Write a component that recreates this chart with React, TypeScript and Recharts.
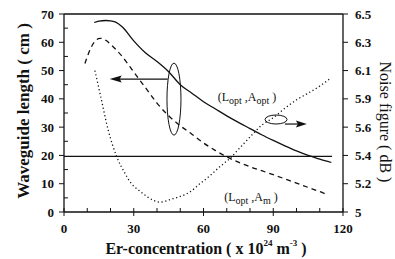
import React from 'react';
import { ComposedChart, Line, XAxis, YAxis, ReferenceDot } from 'recharts';

// Er-concentration (x10^24 m^-3) and waveguide length (cm) for (Lopt, Aopt)
const concOpt = [13, 15, 18, 20, 22, 25, 30, 35, 40, 45, 50, 55, 60, 65, 70, 75, 80, 85, 90, 95, 100, 105, 110, 115];
const lenOpt = [67, 67.5, 67.7, 67.6, 67.2, 65.5, 60.5, 56.3, 53.2, 49.6, 45, 42, 39, 36.5, 34, 31.7, 29.5, 27.3, 25.3, 23.4, 21.6, 20, 18.7, 17.5];

// (Lopt, Am)
const concM = [9, 11, 13, 15.5, 18, 20, 25, 30, 35, 40, 45, 50, 55, 60, 65, 70, 75, 80, 85, 90, 95, 100, 105, 110, 113];
const lenM = [52.5, 57, 60, 61.4, 60.7, 59.3, 55, 49.5, 44, 38.5, 34, 30.5, 27.5, 24.4, 21.8, 19.5, 17.6, 16, 14.6, 13.2, 11.7, 10.2, 8.7, 7.2, 6.2];

// Noise figure (dB)
const concNf = [13.3, 16, 19, 22.7, 26, 29, 32.5, 35.6, 41.3, 46, 50, 54, 58.5, 63, 67, 71.4, 76, 80, 85, 90, 95, 100, 105, 110, 115];
const nfDb = [6.1, 5.9, 5.58, 5.39, 5.28, 5.2, 5.15, 5.11, 5.07, 5.09, 5.11, 5.14, 5.2, 5.26, 5.32, 5.38, 5.46, 5.53, 5.62, 5.7, 5.8, 5.89, 5.94, 5.99, 6.05];

// horizontal reference line (cm)
const flatConc = [0, 115.3];
const flatLen = [19.7, 19.7];

// tick labels
const xTicks = [0, 10, 20, 30, 40, 50, 60, 70, 80, 90, 100, 110, 120];
const xMajor = [0, 30, 60, 90, 120];
const yTicks = [0, 5, 10, 15, 20, 25, 30, 35, 40, 45, 50, 55, 60, 65, 70];
const nfLabels = [5, 5.2, 5.4, 5.6, 5.9, 6.1, 6.3, 6.5];

const nfPos = (db: number) => {
  for (let i = 0; i < nfLabels.length - 1; i++) {
    if (db <= nfLabels[i + 1]) return i + (db - nfLabels[i]) / (nfLabels[i + 1] - nfLabels[i]);
  }
  return nfLabels.length - 1;
};

const optData = concOpt.map((c, i) => ({ c, v: lenOpt[i] }));
const mData = concM.map((c, i) => ({ c, v: lenM[i] }));
const nfData = concNf.map((c, i) => ({ c, v: nfPos(nfDb[i]) }));
const flatData = flatConc.map((c, i) => ({ c, v: flatLen[i] }));

const FONT = '"Liberation Serif", "DejaVu Serif", serif';
const K = '#111';

const BottomTick = (p: any) => {
  const { x, y, payload } = p;
  const major = xMajor.includes(payload.value);
  return (
    <g>
      <line x1={x} x2={x} y1={y} y2={y - 4} stroke={K} strokeWidth={1} />
      {major && <line x1={x} x2={x} y1={y} y2={y + 4} stroke={K} strokeWidth={1} />}
      {major && (
        <text x={x} y={y + 16} textAnchor="middle" dominantBaseline="central" fontFamily={FONT} fontWeight="bold" fontSize={13} fill={K}>
          {payload.value}
        </text>
      )}
    </g>
  );
};

const TopTick = (p: any) => {
  const { x, y, payload } = p;
  const major = xMajor.includes(payload.value);
  return <line x1={x} x2={x} y1={y} y2={y + (major ? 5 : 4)} stroke={K} strokeWidth={1} />;
};

const LeftTick = (p: any) => {
  const { x, y, payload } = p;
  const major = payload.value % 10 === 0;
  return (
    <g>
      {major ? (
        <line x1={x - 5} x2={x} y1={y} y2={y} stroke={K} strokeWidth={1} />
      ) : (
        <line x1={x} x2={x + 4} y1={y} y2={y} stroke={K} strokeWidth={1} />
      )}
      {major && (
        <text x={x - 10} y={y} textAnchor="end" dominantBaseline="central" fontFamily={FONT} fontWeight="bold" fontSize={13} fill={K}>
          {payload.value}
        </text>
      )}
    </g>
  );
};

const RightTick = (p: any) => {
  const { x, y, payload } = p;
  return (
    <g>
      <line x1={x} x2={x + 5} y1={y} y2={y} stroke={K} strokeWidth={1} />
      <text x={x + 12} y={y} textAnchor="start" dominantBaseline="central" fontFamily={FONT} fontWeight="bold" fontSize={13} fill={K}>
        {nfLabels[payload.value]}
      </text>
    </g>
  );
};

const Ellipse = (rx: number, ry: number) => (p: any) => (
  <ellipse cx={p.cx} cy={p.cy} rx={rx} ry={ry} fill="none" stroke={K} strokeWidth={1} />
);

const ArrowLeft = (p: any) => (
  <g>
    <line x1={p.cx} y1={p.cy} x2={p.cx - 50} y2={p.cy} stroke={K} strokeWidth={1.2} />
    <polygon points={`${p.cx - 58},${p.cy} ${p.cx - 46},${p.cy - 3.5} ${p.cx - 48},${p.cy} ${p.cx - 46},${p.cy + 3.5}`} fill={K} />
  </g>
);

const ArrowRight = (p: any) => (
  <g>
    <line x1={p.cx} y1={p.cy} x2={p.cx + 15} y2={p.cy} stroke={K} strokeWidth={1.2} />
    <polygon points={`${p.cx + 22},${p.cy} ${p.cx + 11},${p.cy - 3.5} ${p.cx + 13},${p.cy} ${p.cx + 11},${p.cy + 3.5}`} fill={K} />
  </g>
);

const Annot = (sub2: string) => (p: any) => (
  <text x={p.cx} y={p.cy} textAnchor="middle" dominantBaseline="central" fontFamily={FONT} fontSize={12} fill={K}>
    <tspan>(L</tspan>
    <tspan dy={3} fontSize={10}>opt</tspan>
    <tspan dy={-3}> ,A</tspan>
    <tspan dy={3} fontSize={10}>{sub2}</tspan>
    <tspan dy={-3}> )</tspan>
  </text>
);

export default function App() {
  return (
    <div style={{ position: 'absolute', left: 0, top: 0, width: 395, height: 259, background: '#fff' }}>
      <ComposedChart width={395} height={259} margin={{ top: 9, right: 32, bottom: 27, left: 44 }}>
        <XAxis
          xAxisId="b"
          type="number"
          dataKey="c"
          domain={[0, 120]}
          ticks={xTicks}
          interval={0}
          height={20}
          tickSize={0}
          tickMargin={0}
          tickLine={false}
          axisLine={{ stroke: K, strokeWidth: 1.3 }}
          tick={<BottomTick />}
        />
        <XAxis
          xAxisId="t"
          orientation="top"
          type="number"
          dataKey="c"
          domain={[0, 120]}
          ticks={xTicks}
          interval={0}
          height={5}
          tickSize={0}
          tickMargin={0}
          tickLine={false}
          axisLine={{ stroke: K, strokeWidth: 1.3 }}
          tick={<TopTick />}
        />
        <YAxis
          yAxisId="L"
          type="number"
          domain={[0, 70]}
          ticks={yTicks}
          interval={0}
          width={20}
          tickSize={0}
          tickMargin={0}
          tickLine={false}
          axisLine={{ stroke: K, strokeWidth: 1.3 }}
          tick={<LeftTick />}
        />
        <YAxis
          yAxisId="nf"
          orientation="right"
          type="number"
          domain={[0, 7]}
          ticks={[0, 1, 2, 3, 4, 5, 6, 7]}
          interval={0}
          width={20}
          tickSize={0}
          tickMargin={0}
          tickLine={false}
          axisLine={{ stroke: K, strokeWidth: 1.3 }}
          tick={<RightTick />}
        />
        <Line xAxisId="b" yAxisId="L" data={flatData} dataKey="v" type="linear" stroke={K} strokeWidth={1.3} dot={false} isAnimationActive={false} />
        <Line xAxisId="b" yAxisId="L" data={optData} dataKey="v" type="monotone" stroke={K} strokeWidth={1.3} dot={false} isAnimationActive={false} />
        <Line xAxisId="b" yAxisId="L" data={mData} dataKey="v" type="monotone" stroke={K} strokeWidth={1.3} strokeDasharray="5 4" dot={false} isAnimationActive={false} />
        <Line xAxisId="b" yAxisId="nf" data={nfData} dataKey="v" type="monotone" stroke={K} strokeWidth={1.3} strokeDasharray="1.2 2.6" dot={false} isAnimationActive={false} />
        <ReferenceDot xAxisId="b" yAxisId="L" x={47.3} y={39.9} shape={Ellipse(7, 36)} />
        <ReferenceDot xAxisId="b" yAxisId="L" x={44.6} y={47} shape={ArrowLeft} />
        <ReferenceDot xAxisId="b" yAxisId="L" x={91.2} y={32.7} shape={Ellipse(11, 4.5)} />
        <ReferenceDot xAxisId="b" yAxisId="L" x={95} y={31.1} shape={ArrowRight} />
        <ReferenceDot xAxisId="b" yAxisId="L" x={78.7} y={40.7} shape={Annot('opt')} />
        <ReferenceDot xAxisId="b" yAxisId="L" x={80.4} y={5.3} shape={Annot('m')} />
      </ComposedChart>
      <svg width={395} height={259} style={{ position: 'absolute', left: 0, top: 0, pointerEvents: 'none' }}>
        <text x={23} y={111} transform="rotate(-90 23 111)" textAnchor="middle" dominantBaseline="central" fontFamily={FONT} fontWeight="bold" fontSize={17} fill={K}>
          Waveguide length ( cm )
        </text>
        <text x={385} y={122} transform="rotate(90 385 122)" textAnchor="middle" dominantBaseline="central" fontFamily={FONT} fontSize={16} fill={K}>
          Noise figure ( dB )
        </text>
        <text x={206} y={248} textAnchor="middle" dominantBaseline="central" fontFamily={FONT} fontWeight="bold" fontSize={16} fill={K}>
          <tspan>Er-concentration ( x 10</tspan>
          <tspan dy={-5} fontSize={9}>24</tspan>
          <tspan dy={5}> m</tspan>
          <tspan dy={-5} fontSize={9}>-3</tspan>
          <tspan dy={5}> )</tspan>
        </text>
      </svg>
    </div>
  );
}
